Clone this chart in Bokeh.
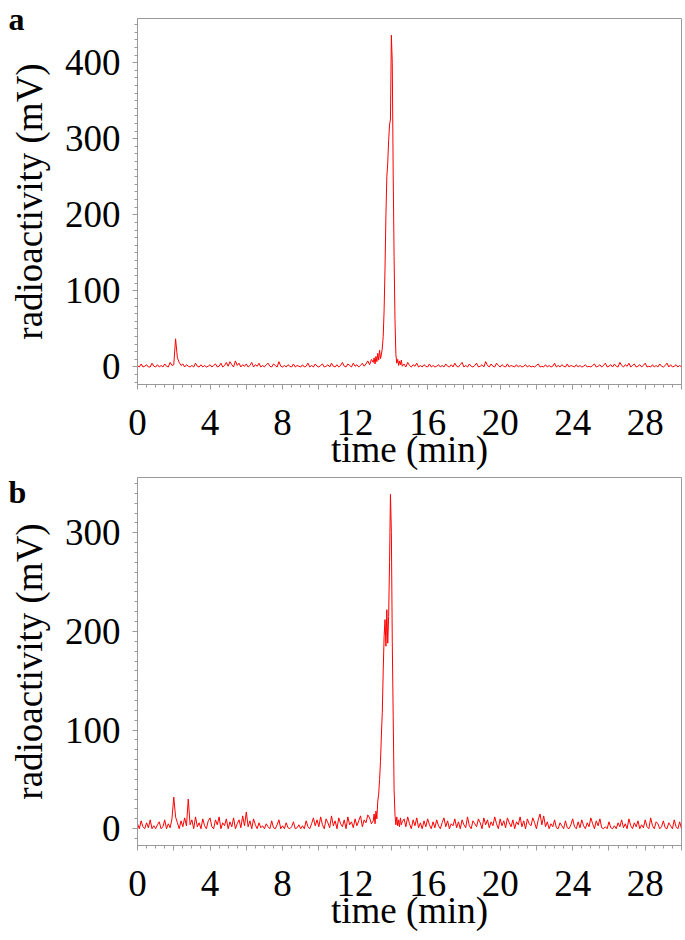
from bokeh.plotting import figure
from bokeh.layouts import column
from bokeh.models import FixedTicker, Range1d, Title
from bokeh.embed import file_html
from bokeh.resources import INLINE

# ---------------- data (time in min, radioactivity in mV) ----------------
# Panel a: baseline before the peak, 0.0 .. 12.9 min every 0.1 min
a_pre = [2, 0, 4, 0, 1, 3, 0, 0, 5, 1,
         0, 3, 0, 2, 0, 4, 1, 0, 6, 2,
         3, 37, 12, 6, 2, 4, 0, 3, 1, 0,
         2, 0, 5, 1, 0, 3, 0, 2, 0, 1,
         3, 0, 2, 4, 0, 1, 5, 0, 2, 6,
         1, 7, 3, 0, 8, 2, 5, 0, 3, 1,
         4, 0, 2, 6, 0, 3, 1, 5, 0, 2,
         0, 3, 5, 1, 0, 4, 2, 0, 7, 1,
         0, 2, 0, 3, 1, 0, 4, 0, 2, 1,
         0, 3, 0, 1, 5, 0, 2, 0, 4, 1,
         0, 2, 4, 0, 1, 3, 0, 5, 1, 0,
         3, 0, 2, 6, 1, 0, 4, 2, 0, 5,
         1, 3, 0, 2, 5, 1, 4, 8, 3, 10]
# Panel a: peak region, 13.00 .. 14.60 min every 0.05 min
a_peak = [6, 12, 4, 14, 7, 18, 9, 22, 11, 16,
          25, 40, 75, 130, 200, 250, 268, 298, 318, 326,
          436, 400, 255, 145, 62, 16, 5, 10, 2, 8,
          3, 9, 1]
# Panel a: baseline after the peak, 14.7 .. 30.0 min every 0.1 min
a_post = [4, 0, 6, 2, 0, 3, 1, 5, 0, 2,
          0, 3, 1, 0, 4, 0, 2, 0, 1, 3,
          0, 2, 0, 4, 1, 0, 3, 0, 5, 1,
          0, 3, 6, 0, 2, 0, 4, 1, 0, 2,
          5, 0, 1, 3, 0, 7, 2, 0, 4, 1,
          0, 5, 2, 0, 3, 1, 0, 4, 0, 2,
          1, 0, 3, 0, 2, 0, 1, 3, 0, 2,
          0, 1, 0, 2, 4, 0, 1, 0, 3, 0,
          2, 0, 1, 5, 0, 2, 0, 3, 1, 0,
          4, 0, 2, 1, 0, 3, 0, 2, 0, 1,
          3, 0, 1, 0, 2, 4, 0, 1, 3, 0,
          2, 5, 0, 1, 3, 0, 4, 1, 0, 6,
          2, 0, 3, 1, 5, 0, 2, 4, 0, 1,
          3, 0, 2, 5, 0, 1, 0, 3, 0, 2,
          0, 4, 1, 0, 2, 5, 0, 3, 0, 1,
          3, 0, 2, 0]

# Panel b
b_pre = [5, 0, 8, 2, 0, 6, 1, 9, 0, 3,
         0, 4, 7, 0, 2, 9, 0, 5, 1, 10,
         32, 12, 6, 0, 8, 2, 11, 3, 30, 4,
         9, 0, 12, 2, 6, 0, 10, 3, 0, 8,
         11, 2, 0, 9, 4, 12, 0, 6, 3, 10,
         0, 7, 2, 11, 0, 5, 9, 1, 13, 3,
         17, 2, 8, 0, 10, 4, 0, 6, 1, 3,
         0, 5, 2, 0, 8, 1, 0, 4, 9, 0,
         3, 0, 6, 1, 0, 2, 7, 0, 1, 4,
         0, 3, 0, 8, 2, 0, 5, 11, 3, 9,
         2, 12, 4, 0, 10, 6, 1, 13, 3, 8,
         0, 11, 5, 2, 9, 0, 12, 4, 7, 1,
         10, 3, 8, 13, 2, 9, 6, 14, 11, 5]
b_peak = [8, 15, 5, 18, 10, 28, 35, 50, 68, 95,
          118, 160, 195, 212, 185, 222, 188, 215, 270, 339,
          300, 190, 115, 40, 14, 4, 12, 3, 9, 2,
          11, 4, 7]
b_post = [10, 2, 12, 5, 0, 9, 3, 11, 1, 6,
          0, 8, 2, 10, 4, 0, 7, 1, 9, 3,
          0, 6, 11, 2, 8, 0, 5, 3, 10, 1,
          7, 0, 9, 4, 1, 12, 3, 0, 8, 5,
          2, 10, 6, 0, 11, 4, 9, 1, 7, 3,
          12, 5, 0, 10, 3, 8, 1, 11, 6, 2,
          9, 0, 7, 4, 12, 2, 8, 0, 10, 5,
          3, 11, 6, 0, 9, 15, 4, 13, 2, 7,
          0, 5, 2, 9, 1, 0, 6, 3, 0, 8,
          1, 0, 4, 10, 2, 0, 7, 1, 9, 3,
          0, 6, 2, 11, 5, 0, 8, 3, 10, 1,
          0, 2, 0, 7, 1, 0, 3, 0, 6, 2,
          9, 1, 5, 0, 10, 3, 0, 6, 2, 8,
          0, 4, 1, 9, 2, 0, 11, 3, 0, 7,
          5, 0, 2, 8, 1, 0, 6, 3, 0, 9,
          2, 0, 7, 0]

x_major = [0, 2, 4, 6, 8, 10, 12, 14, 16, 18, 20, 22, 24, 26, 28, 30]
x_tick_labels = {t: (str(t) if t % 4 == 0 else "") for t in x_major}
a_y_major = [0, 100, 200, 300, 400]
b_y_major = [0, 100, 200, 300]
a_yrange = (-23, 458)
b_yrange = (-17, 356)
panel_letters = ["a", "b"]


def times(start, step, n):
    return [round(start + step * i, 3) for i in range(n)]


def series(pre, peak, post):
    t = times(0.0, 0.1, len(pre)) + times(13.0, 0.05, len(peak)) + times(14.7, 0.1, len(post))
    return t, pre + peak + post


FONT = "Liberation Serif"
GREY = "#9a9a9a"
LEFT = 137
FW = 544


def panel(t, v, yr, y_major, letter, fh, top, letter_standoff):
    y0, y1 = yr
    p = figure(frame_width=FW, frame_height=fh, output_backend="svg", toolbar_location=None,
               x_range=Range1d(0, 30), y_range=Range1d(y0, y1),
               min_border_left=LEFT, min_border_right=2, min_border_top=top, min_border_bottom=0,
               background_fill_color="white", border_fill_color="white")
    p.outline_line_color = GREY
    p.outline_line_width = 1
    p.grid.visible = False
    p.line(t, v, color="#ff0000", line_width=1)

    xa = p.xaxis[0]
    xa.ticker = FixedTicker(ticks=x_major, minor_ticks=[i * 0.5 for i in range(61)])
    xa.major_label_overrides = x_tick_labels
    xa.axis_label = "time (min)"
    xa.major_label_standoff = 20
    xa.axis_label_standoff = -9

    ya = p.yaxis[0]
    ya.ticker = FixedTicker(ticks=y_major,
                            minor_ticks=[m for m in range(-20, int(y1) + 1, 10) if m >= y0])
    ya.axis_label = "radioactivity (mV)"
    ya.major_label_standoff = 12
    ya.axis_label_standoff = 12

    for ax in (xa, ya):
        ax.axis_line_color = GREY
        ax.major_tick_line_color = GREY
        ax.minor_tick_line_color = GREY
        ax.major_tick_out = 5
        ax.major_tick_in = 0
        ax.minor_tick_out = 3
        ax.minor_tick_in = 0
        ax.major_label_text_font = FONT
        ax.major_label_text_font_size = "37px"
        ax.major_label_text_color = "black"
        ax.axis_label_text_font = FONT
        ax.axis_label_text_font_size = "37px"
        ax.axis_label_text_font_style = "normal"
        ax.axis_label_text_color = "black"

    # panel letter, pulled to the far left of the canvas
    p.add_layout(Title(text=letter, align="left", vertical_align="bottom",
                       offset=-(LEFT - 8), standoff=letter_standoff,
                       text_font=FONT, text_font_style="bold", text_font_size="32px",
                       text_color="black"), "above")
    return p


ta, va = series(a_pre, a_peak, a_post)
tb, vb = series(b_pre, b_peak, b_post)

pa = panel(ta, va, a_yrange, a_y_major, panel_letters[0], 366, 18, -36)
pb = panel(tb, vb, b_yrange, b_y_major, panel_letters[1], 368, 5, -64)

layout = column(pa, pb, spacing=0)
open("out.html", "w").write(file_html(layout, INLINE))
